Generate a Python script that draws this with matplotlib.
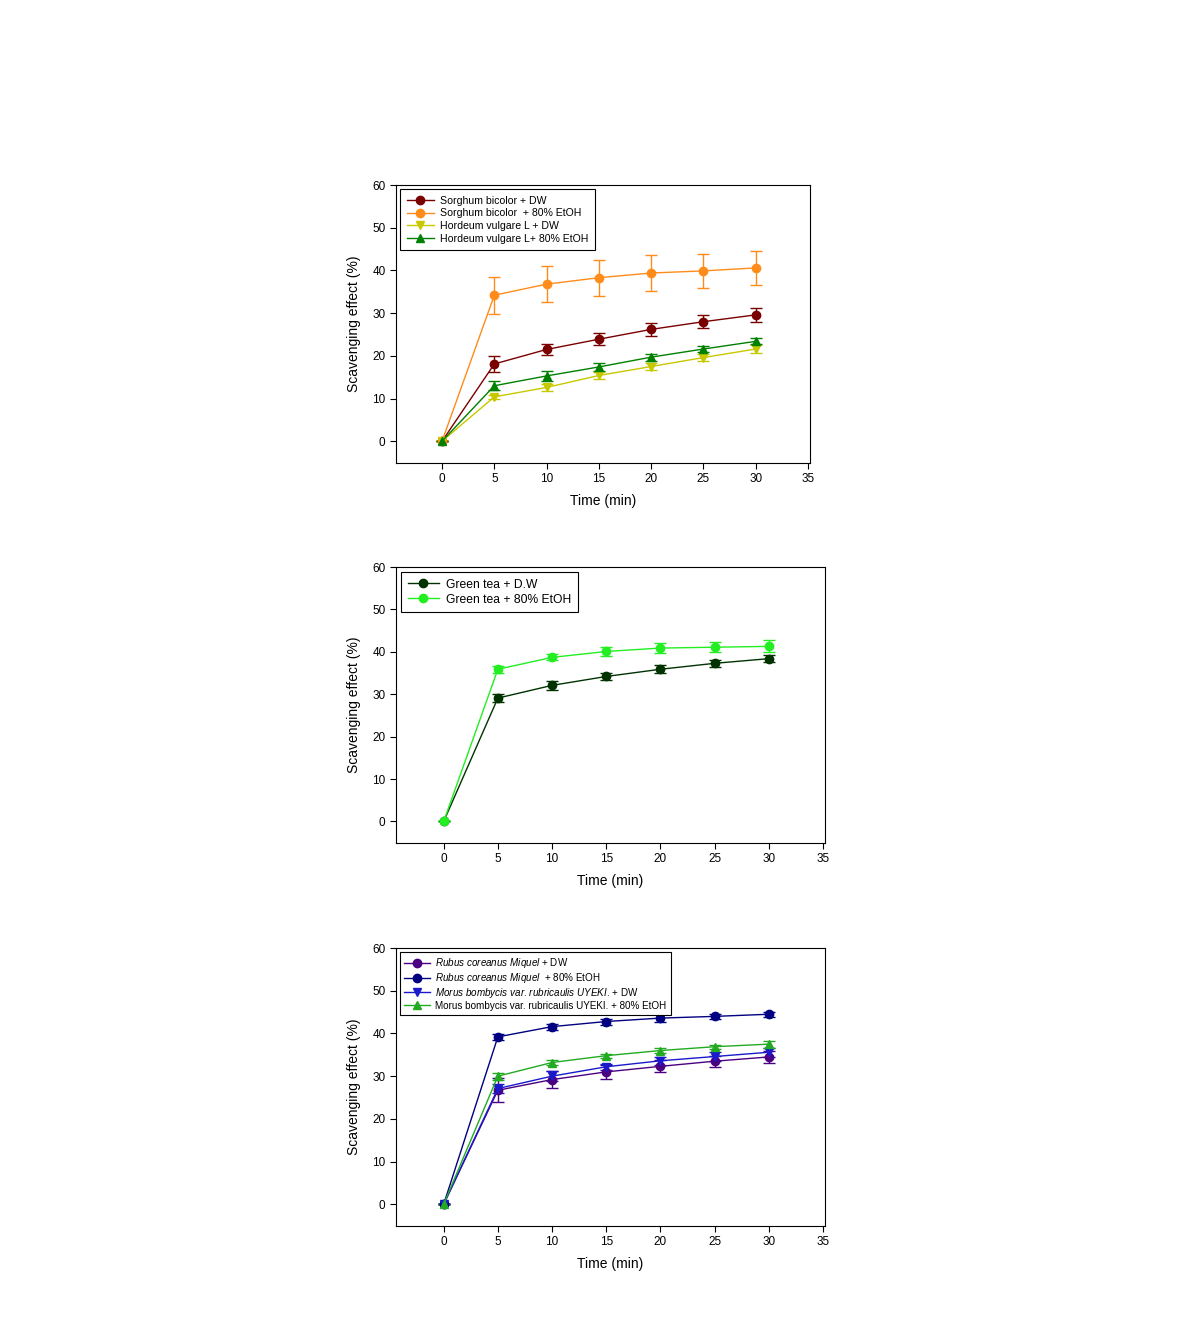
import matplotlib.pyplot as plt

plt.rcParams['font.family'] = ['Liberation Sans', 'DejaVu Sans']
plt.rcParams['mathtext.fontset'] = 'custom'
plt.rcParams['mathtext.it'] = 'Liberation Sans:italic'
plt.rcParams['mathtext.rm'] = 'Liberation Sans'

time = [0, 5, 10, 15, 20, 25, 30]

# Panel 1
sorghum_dw = [0, 18.1, 21.5, 23.9, 26.2, 28.0, 29.6]
sorghum_dw_err = [0, 1.9, 1.3, 1.4, 1.6, 1.5, 1.6]
sorghum_et = [0, 34.2, 36.8, 38.3, 39.4, 39.9, 40.6]
sorghum_et_err = [0, 4.3, 4.2, 4.2, 4.3, 3.9, 4.0]
hordeum_dw = [0, 10.4, 12.6, 15.4, 17.5, 19.6, 21.6]
hordeum_dw_err = [0, 0.5, 0.8, 0.8, 0.9, 0.9, 0.9]
hordeum_et = [0, 13.0, 15.3, 17.4, 19.7, 21.6, 23.4]
hordeum_et_err = [0, 1.1, 1.1, 1.0, 0.8, 0.8, 0.7]

# Panel 2
green_dw = [0, 29.1, 32.1, 34.2, 35.9, 37.3, 38.4]
green_dw_err = [0, 0.9, 1.0, 0.9, 0.9, 0.9, 0.9]
green_et = [0, 35.9, 38.7, 40.1, 40.9, 41.1, 41.3]
green_et_err = [0, 0.8, 0.7, 1.0, 1.2, 1.2, 1.4]

# Panel 3
rubus_dw = [0, 26.7, 29.2, 31.0, 32.3, 33.5, 34.5]
rubus_dw_err = [0, 2.8, 2.0, 1.6, 1.4, 1.3, 1.3]
rubus_et = [0, 39.2, 41.6, 42.8, 43.6, 44.0, 44.5]
rubus_et_err = [0, 0.7, 0.7, 0.7, 0.9, 0.5, 0.6]
morus_dw = [0, 27.1, 30.0, 32.2, 33.6, 34.6, 35.6]
morus_dw_err = [0, 1.0, 1.2, 0.7, 1.0, 1.0, 1.0]
morus_et = [0, 30.0, 33.2, 34.8, 36.0, 36.9, 37.5]
morus_et_err = [0, 0.8, 0.5, 0.5, 0.5, 0.5, 0.8]

fig = plt.figure(figsize=(11.9, 13.21), dpi=100)
ax1 = fig.add_axes([0.3328, 0.6495, 0.348, 0.2104])
ax2 = fig.add_axes([0.3328, 0.3618, 0.3605, 0.2089])
ax3 = fig.add_axes([0.3328, 0.0719, 0.3605, 0.2104])


def series(ax, y, err, color, marker, label):
    ax.errorbar(time, y, yerr=err, color=color, marker=marker, markersize=6,
                linewidth=1, capsize=4, elinewidth=1, capthick=1, label=label)


series(ax1, sorghum_dw, sorghum_dw_err, '#7A0000', 'o', 'Sorghum bicolor + DW')
series(ax1, sorghum_et, sorghum_et_err, '#FF8C1A', 'o', 'Sorghum bicolor  + 80% EtOH')
series(ax1, hordeum_dw, hordeum_dw_err, '#C8C800', 'v', 'Hordeum vulgare L + DW')
series(ax1, hordeum_et, hordeum_et_err, '#008000', '^', 'Hordeum vulgare L+ 80% EtOH')

series(ax2, green_dw, green_dw_err, '#003300', 'o', 'Green tea + D.W')
series(ax2, green_et, green_et_err, '#22EE22', 'o', 'Green tea + 80% EtOH')

series(ax3, rubus_dw, rubus_dw_err, '#4B0082', 'o',
       r'$\mathit{Rubus\ coreanus\ Miquel}$ + DW')
series(ax3, rubus_et, rubus_et_err, '#000080', 'o',
       r'$\mathit{Rubus\ coreanus\ Miquel}$  + 80% EtOH')
series(ax3, morus_dw, morus_dw_err, '#1A1ACC', 'v',
       r'$\mathit{Morus\ bombycis\ var}$. $\mathit{rubricaulis\ UYEKI}$. + DW')
series(ax3, morus_et, morus_et_err, '#22AA22', '^',
       'Morus bombycis var. rubricaulis UYEKI. + 80% EtOH')

legend_opts = [
    dict(fontsize=7.6, labelspacing=0.25, borderpad=0.6),
    dict(fontsize=8.7, labelspacing=0.25, borderpad=0.55),
    dict(fontsize=7.1, labelspacing=0.1, borderpad=0.4),
]
for ax, opts in zip([ax1, ax2, ax3], legend_opts):
    ax.set_xlim(-4.4, 35.2)
    ax.set_ylim(-5.1, 60)
    ax.set_xticks([0, 5, 10, 15, 20, 25, 30, 35])
    ax.set_yticks([0, 10, 20, 30, 40, 50, 60])
    ax.tick_params(direction='out', length=4, labelsize=8.5, width=0.8)
    ax.set_xlabel('Time (min)', fontsize=10, labelpad=6)
    ax.set_ylabel('Scavenging effect (%)', fontsize=10, labelpad=8)
    for s in ax.spines.values():
        s.set_linewidth(0.8)
    # legend shows only the line + marker, not the error bars
    handles, labels = ax.get_legend_handles_labels()
    handles = [h[0] for h in handles]
    leg = ax.legend(handles, labels, loc='upper left', fancybox=False,
                    framealpha=1, edgecolor='black', handlelength=2.6,
                    handletextpad=0.6, borderaxespad=0.4, **opts)
    leg.get_frame().set_linewidth(0.8)

fig.savefig('out.png', dpi=100)
